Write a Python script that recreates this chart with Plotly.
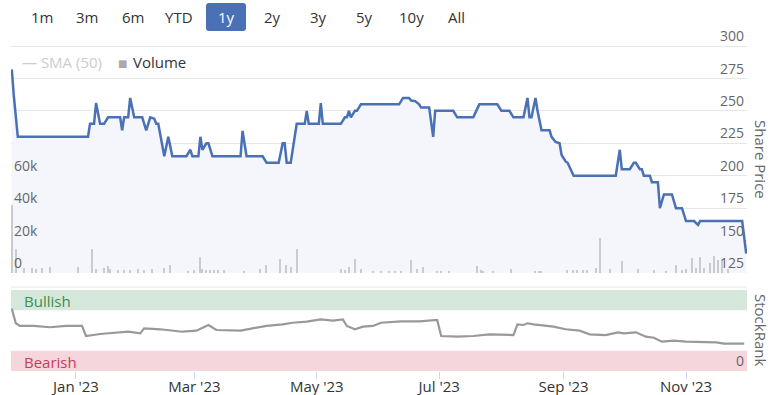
import plotly.graph_objects as go

# ---------------- data ----------------
price_dates = [
    "2022-11-30", "2022-12-01", "2022-12-03", "2023-01-07", "2023-01-08", "2023-01-10",
    "2023-01-11", "2023-01-13", "2023-01-15", "2023-01-17", "2023-01-23", "2023-01-24",
    "2023-01-25", "2023-01-27", "2023-01-28", "2023-01-30", "2023-02-03", "2023-02-05",
    "2023-02-07", "2023-02-09", "2023-02-10", "2023-02-11", "2023-02-14", "2023-02-16",
    "2023-02-18", "2023-02-25", "2023-02-27", "2023-02-28", "2023-03-03", "2023-03-04",
    "2023-03-05", "2023-03-07", "2023-03-08", "2023-03-10", "2023-03-24", "2023-03-25",
    "2023-03-27", "2023-04-04", "2023-04-06", "2023-04-12", "2023-04-14", "2023-04-15",
    "2023-04-16", "2023-04-18", "2023-04-21", "2023-04-25", "2023-04-26", "2023-04-27",
    "2023-05-02", "2023-05-03", "2023-05-04", "2023-05-13", "2023-05-15", "2023-05-16",
    "2023-05-17", "2023-05-18", "2023-05-20", "2023-05-21", "2023-05-23", "2023-06-11",
    "2023-06-13", "2023-06-16", "2023-06-17", "2023-06-19", "2023-06-21", "2023-06-22",
    "2023-06-26", "2023-06-28", "2023-06-29", "2023-07-08", "2023-07-10", "2023-07-18",
    "2023-07-21", "2023-07-30", "2023-08-01", "2023-08-05", "2023-08-07", "2023-08-12",
    "2023-08-14", "2023-08-15", "2023-08-16", "2023-08-18", "2023-08-19", "2023-08-21",
    "2023-08-25", "2023-08-26", "2023-08-28", "2023-08-30", "2023-08-31", "2023-09-02",
    "2023-09-03", "2023-09-06", "2023-09-27", "2023-09-29", "2023-09-30", "2023-10-04",
    "2023-10-06", "2023-10-07", "2023-10-09", "2023-10-10", "2023-10-11", "2023-10-14",
    "2023-10-15", "2023-10-18", "2023-10-19", "2023-10-21", "2023-10-25", "2023-10-27",
    "2023-10-30", "2023-11-01", "2023-11-05", "2023-11-07", "2023-11-08", "2023-11-29",
    "2023-12-01",
]
price_values = [
    282, 262, 230, 230, 240, 240,
    256, 240, 240, 245, 245, 235,
    245, 245, 260, 245, 245, 235,
    245, 244, 240, 240, 215, 230,
    215, 215, 220, 215, 215, 230,
    220, 225, 225, 215, 215, 234.5,
    215, 215, 210, 210, 225, 225,
    210, 210, 240, 240, 250, 240,
    240, 256, 240, 240, 245, 245,
    250, 245, 250, 250, 255, 255,
    260, 260, 258, 257.5, 255, 252.5,
    252.5, 230, 250, 250, 245, 245,
    255, 255, 250, 250, 245, 245,
    260, 245, 245, 260, 250, 235,
    235, 230, 226, 225, 216, 211,
    210, 200, 200, 220, 205, 205,
    210, 210, 205, 205, 200, 200,
    195, 195, 175, 185.5, 185.5, 175,
    175, 165, 165, 162, 165, 165,
    140,
]

volume_dates = [
    "2022-11-30", "2022-12-02", "2022-12-06", "2022-12-10", "2022-12-12", "2022-12-15",
    "2022-12-19", "2023-01-02", "2023-01-09", "2023-01-11", "2023-01-15", "2023-01-17",
    "2023-01-18", "2023-01-22", "2023-01-25", "2023-01-28", "2023-02-01", "2023-02-04",
    "2023-02-08", "2023-02-14", "2023-02-17", "2023-02-26", "2023-03-01", "2023-03-04",
    "2023-03-05", "2023-03-07", "2023-03-09", "2023-03-11", "2023-03-13", "2023-03-16",
    "2023-03-26", "2023-04-03", "2023-04-06", "2023-04-13", "2023-04-16", "2023-04-18",
    "2023-04-21", "2023-05-13", "2023-05-15", "2023-05-17", "2023-05-20", "2023-05-23",
    "2023-05-29", "2023-06-02", "2023-06-06", "2023-06-09", "2023-06-12", "2023-06-17",
    "2023-06-20", "2023-06-23", "2023-06-30", "2023-07-02", "2023-07-06", "2023-07-20",
    "2023-07-22", "2023-07-23", "2023-07-28", "2023-08-06", "2023-08-18", "2023-08-20",
    "2023-08-21", "2023-09-03", "2023-09-06", "2023-09-08", "2023-09-11", "2023-09-13",
    "2023-09-17", "2023-09-19", "2023-09-24", "2023-09-30", "2023-10-08", "2023-10-16",
    "2023-10-22", "2023-10-27", "2023-10-30", "2023-11-01", "2023-11-04", "2023-11-06",
    "2023-11-08", "2023-11-10", "2023-11-13", "2023-11-15", "2023-11-17", "2023-11-19",
    "2023-11-22",
]
volume_values = [
    42000, 15000, 3000, 3000, 2500, 3000,
    3700, 3700, 14600, 2600, 3000, 4300,
    2500, 2000, 2000, 2000, 2500, 2000,
    2500, 3000, 5000, 1500, 2000, 10000,
    2500, 2000, 2000, 2000, 2000, 2000,
    1500, 2500, 5000, 8500, 5000, 3500,
    14500, 2500, 2000, 3500, 8500, 2500,
    1500, 1200, 1500, 1500, 1500, 8000,
    2500, 4000, 1500, 1500, 1500, 4500,
    2000, 1500, 1500, 2500, 1500, 1500,
    1500, 2000, 2000, 2000, 2000, 2000,
    3000, 21500, 2500, 7500, 2500, 2000,
    1500, 5000, 2000, 2500, 9000, 3000,
    10000, 3000, 6000, 10500, 8000, 8000,
    2500,
]

rank_dates = [
    "2022-11-30", "2022-12-02", "2022-12-04", "2022-12-11", "2022-12-19", "2022-12-27",
    "2023-01-04", "2023-01-06", "2023-01-13", "2023-01-21", "2023-01-27", "2023-02-02",
    "2023-02-04", "2023-02-12", "2023-02-23", "2023-03-02", "2023-03-08", "2023-03-12",
    "2023-03-24", "2023-03-30", "2023-04-06", "2023-04-14", "2023-04-19", "2023-04-26",
    "2023-05-03", "2023-05-09", "2023-05-14", "2023-05-16", "2023-05-20", "2023-05-24",
    "2023-05-29", "2023-06-02", "2023-06-07", "2023-06-12", "2023-06-21", "2023-06-28",
    "2023-06-30", "2023-07-02", "2023-07-10", "2023-07-18", "2023-07-26", "2023-08-07",
    "2023-08-09", "2023-08-12", "2023-08-14", "2023-08-17", "2023-08-27", "2023-09-02",
    "2023-09-09", "2023-09-14", "2023-09-22", "2023-09-28", "2023-10-01", "2023-10-07",
    "2023-10-12", "2023-10-16", "2023-10-20", "2023-10-26", "2023-11-01", "2023-11-16",
    "2023-11-20", "2023-11-30",
]
rank_values = [
    77, 59, 55.6, 55.6, 54, 55.6,
    55.6, 43.2, 45.7, 47.3, 48.5, 46.5,
    52.7, 51.5, 48.5, 49.8, 56.8, 50.6,
    49.8, 52.7, 55.6, 57.6, 59.6, 60.9,
    63.8, 62.1, 63.8, 55.6, 51.5, 54.7,
    55.6, 59.6, 60.9, 61.3, 61.3, 62.1,
    63, 43.2, 42.4, 43.2, 45.3, 44.4,
    57.6, 56.8, 58.9, 57.6, 54.7, 51.5,
    49.8, 45.3, 44.4, 47.7, 46.5, 47.7,
    42.4, 41.1, 36.2, 37.4, 36.2, 35.4,
    33.7, 33.7,
]

price_ticks = [125, 150, 175, 200, 225, 250, 275, 300]
volume_ticks = [0, 20000, 40000, 60000]
volume_tick_text = ["0", "20k", "40k", "60k"]
range_buttons = ["1m", "3m", "6m", "YTD", "1y", "2y", "3y", "5y", "10y", "All"]
selected_button = "1y"

# ---------------- figure ----------------
FONT = "Open Sans, Lato, sans-serif"
W, H = 772, 395
ML, MR, MT, MB = 11, 25, 18, 24
PW = W - ML - MR
PH = H - MT - MB

# pixel rows of the price panel (300 gridline and 125 gridline)
Y300, Y125 = 46, 273
price_per_px = (300 - 125) / (Y125 - Y300)
price_top = 300 + (Y300 - MT) * price_per_px
vol_top = 140000 * (Y125 - MT) / (Y125 - Y300)


def px_x(x):
    return (x - ML) / PW


def px_y(y):
    return (H - MB - y) / PH


fig = go.Figure()

fig.add_trace(go.Scatter(
    x=price_dates, y=price_values, mode="lines",
    line=dict(color="#4a70b5", width=2.5),
    fill="tozeroy", fillcolor="#f4f6fb",
    yaxis="y", xaxis="x", hoverinfo="skip", showlegend=False,
))
fig.add_trace(go.Bar(
    x=volume_dates, y=volume_values,
    marker=dict(color="#c9cbd1", line=dict(width=0)),
    width=0.7 * 86400000,
    yaxis="y2", xaxis="x", hoverinfo="skip", showlegend=False,
))
fig.add_trace(go.Scatter(
    x=rank_dates, y=rank_values, mode="lines",
    line=dict(color="#999999", width=2.2),
    yaxis="y3", xaxis="x", hoverinfo="skip", showlegend=False,
))

shapes = [
    dict(type="rect", xref="x domain", yref="y3", x0=0, x1=1, y0=75, y1=100,
         fillcolor="#d6e8dc", line=dict(width=0), layer="below"),
    dict(type="rect", xref="x domain", yref="y3", x0=0, x1=1, y0=0, y1=25,
         fillcolor="#f5d6dc", line=dict(width=0), layer="below"),
    dict(type="line", xref="paper", yref="paper", x0=0, x1=1,
         y0=px_y(287), y1=px_y(287), line=dict(color="#e6e6e6", width=1)),
]

bx0, bx1, by0, by1 = px_x(206), px_x(246), px_y(31), px_y(3)
rx, ry = 3 / PW, 3 / PH
shapes.append(dict(
    type="path", xref="paper", yref="paper",
    path=(f"M {bx0+rx},{by0} L {bx1-rx},{by0} Q {bx1},{by0} {bx1},{by0+ry} "
          f"L {bx1},{by1-ry} Q {bx1},{by1} {bx1-rx},{by1} L {bx0+rx},{by1} "
          f"Q {bx0},{by1} {bx0},{by1-ry} L {bx0},{by0+ry} Q {bx0},{by0} {bx0+rx},{by0} Z"),
    fillcolor="#4a70b5", line=dict(width=0),
))

annotations = []
button_centers = [41.5, 87, 133, 178.5, 226, 272, 318, 364.5, 411, 456]
for label, cx in zip(range_buttons, button_centers):
    annotations.append(dict(
        text=label, xref="paper", yref="paper", x=px_x(cx), y=px_y(17),
        xanchor="center", yanchor="middle", showarrow=False,
        font=dict(family=FONT, size=15,
                  color="#ffffff" if label == selected_button else "#333333"),
    ))

annotations += [
    dict(text="— SMA (50)", xref="paper", yref="paper", x=px_x(20), y=px_y(62.5),
         xanchor="left", yanchor="middle", showarrow=False,
         font=dict(family=FONT, size=15, color="#cccccc")),
    dict(text="■", xref="paper", yref="paper", x=px_x(115.5), y=px_y(63.5),
         xanchor="left", yanchor="middle", showarrow=False,
         font=dict(family="DejaVu Sans", size=10, color="#aaaaaa")),
    dict(text="Volume", xref="paper", yref="paper", x=px_x(131), y=px_y(62.5),
         xanchor="left", yanchor="middle", showarrow=False,
         font=dict(family=FONT, size=15, color="#333333")),
    dict(text="Bullish", xref="paper", yref="paper", x=px_x(22), y=px_y(301),
         xanchor="left", yanchor="middle", showarrow=False,
         font=dict(family=FONT, size=15, color="#3d8c50")),
    dict(text="Bearish", xref="paper", yref="paper", x=px_x(22), y=px_y(362),
         xanchor="left", yanchor="middle", showarrow=False,
         font=dict(family=FONT, size=15, color="#c83c5a")),
    dict(text="Share Price", xref="paper", yref="paper", x=px_x(761), y=px_y(159),
         xanchor="center", yanchor="middle", showarrow=False, textangle=90,
         font=dict(family=FONT, size=15, color="#666666")),
    dict(text="StockRank", xref="paper", yref="paper", x=px_x(761), y=px_y(330),
         xanchor="center", yanchor="middle", showarrow=False, textangle=90,
         font=dict(family=FONT, size=15, color="#666666")),
]

top_domain = [px_y(Y125), 1.0]
bot_domain = [0.0, px_y(290)]

fig.update_layout(
    width=W, height=H,
    margin=dict(l=ML, r=MR, t=MT, b=MB, autoexpand=False),
    paper_bgcolor="#ffffff", plot_bgcolor="#ffffff",
    showlegend=False, bargap=0,
    font=dict(family=FONT, color="#666666"),
    xaxis=dict(
        type="date", range=["2022-11-29 14:38", "2023-12-01 09:36"],
        anchor="y3", showgrid=False, zeroline=False, showline=False,
        ticks="outside", ticklen=7, tickcolor="#ccd6eb", tickwidth=1,
        dtick="M2", tick0="2023-01-01", tickformat="%b '%y",
        ticklabelstandoff=-5,
        tickfont=dict(family=FONT, size=15, color="#333333"),
    ),
    yaxis=dict(
        domain=top_domain, range=[125, price_top], anchor="x", side="right",
        tickvals=price_ticks, showgrid=True, gridcolor="#e6e6e6", gridwidth=1,
        zeroline=False, showline=False, ticks="",
        ticklabelposition="inside top",
        tickfont=dict(family=FONT, size=14, color="#666666"),
    ),
    yaxis2=dict(
        overlaying="y", range=[0, vol_top], anchor="x", side="left",
        tickvals=volume_ticks, ticktext=volume_tick_text, showgrid=False,
        zeroline=False, showline=False, ticks="",
        ticklabelposition="inside top",
        tickfont=dict(family=FONT, size=14, color="#666666"),
    ),
    yaxis3=dict(
        domain=bot_domain, range=[0, 100], anchor="x", side="right",
        tickvals=[0], showgrid=False, zeroline=False, showline=False, ticks="",
        ticklabelposition="inside top",
        tickfont=dict(family=FONT, size=14, color="#666666"),
    ),
    shapes=shapes,
    annotations=annotations,
)

fig.write_html(
    "out.html",
    config={"responsive": False, "displayModeBar": False},
    post_script="document.body.style.margin='0';document.body.style.overflow='hidden';",
)
